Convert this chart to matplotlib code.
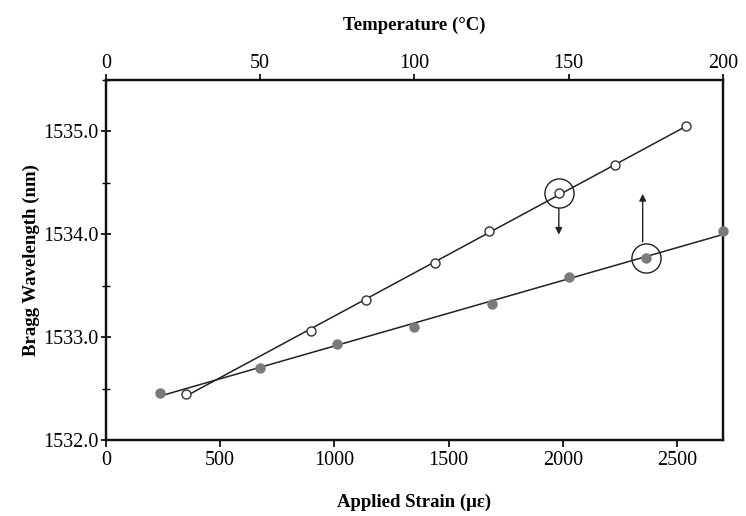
import numpy as np
import matplotlib
matplotlib.use("Agg")
import matplotlib.pyplot as plt
from matplotlib.ticker import MultipleLocator, FormatStrFormatter

# open circles -> applied strain (bottom axis)
strain = [350, 897, 1138, 1440, 1676, 1982, 2227, 2538]
wl_strain = [1532.45, 1533.06, 1533.36, 1533.72, 1534.03, 1534.40, 1534.67, 1535.05]

# filled circles -> temperature (top axis)
temp = [17.5, 50, 75, 100, 125, 150, 175, 200]
wl_temp = [1532.46, 1532.70, 1532.93, 1533.10, 1533.32, 1533.59, 1533.77, 1534.03]

plt.rcParams['font.family'] = ['Liberation Serif', 'DejaVu Serif']

fig = plt.figure(figsize=(7.46, 5.16), dpi=100)
ax = fig.add_axes([0.142, 0.147, 0.827, 0.698])

ax.set_xlim(0, 2700)
ax.set_ylim(1532.0, 1535.5)

# strain series + linear fit
m, b = np.polyfit(strain, wl_strain, 1)
xs = np.array([strain[0], strain[-1]])
ax.plot(xs, m*xs + b, c='#222222', lw=1.1, zorder=2)
ax.plot(strain, wl_strain, 'o', ms=6.5, mfc='white', mec='#333333', mew=1.0, zorder=3)

# temperature on twin top axis
ax2 = ax.twiny()
ax2.set_xlim(0, 200)
m2, b2 = np.polyfit(temp, wl_temp, 1)
ts = np.array([temp[0], temp[-1]])
ax2.plot(ts, m2*ts + b2, c='#222222', lw=1.1, zorder=2)
ax2.plot(temp, wl_temp, 'o', ms=6.5, mfc='#7a7a7a', mec='#7a7a7a', zorder=3, clip_on=False)

# highlight circles and arrows
ax.plot(strain[5], wl_strain[5], 'o', ms=21, mfc='none', mec='#222222', mew=1.0)
ax.annotate('', xy=(strain[5], 1533.97), xytext=(strain[5], 1534.28),
            arrowprops=dict(arrowstyle='-|>', color='#222222', lw=1.0, mutation_scale=10))
ax2.plot(temp[6], wl_temp[6], 'o', ms=21, mfc='none', mec='#222222', mew=1.0)
ax2.annotate('', xy=(174, 1534.42), xytext=(174, 1533.90),
             arrowprops=dict(arrowstyle='-|>', color='#222222', lw=1.0, mutation_scale=10))

for a in (ax, ax2):
    for s in a.spines.values():
        s.set_linewidth(1.6)
        s.set_color('#111111')

ax.xaxis.set_major_locator(MultipleLocator(500))
ax.yaxis.set_major_locator(MultipleLocator(1.0))
ax.yaxis.set_minor_locator(MultipleLocator(0.5))
ax.yaxis.set_major_formatter(FormatStrFormatter('%.1f'))
ax2.xaxis.set_major_locator(MultipleLocator(50))

ax.tick_params(axis='x', direction='out', length=5, width=1.2, labelsize=14.5, pad=3)
ax.tick_params(axis='y', which='major', direction='inout', length=7, width=1.2, labelsize=14.5, pad=2)
ax.tick_params(axis='y', which='minor', direction='inout', length=6, width=1.0)
ax2.tick_params(axis='x', direction='out', length=4, width=1.2, labelsize=14.5, pad=1)

ax.set_xlabel('Applied Strain (\u03bc\u03b5)', fontsize=13.5, fontweight='bold', labelpad=17)
ax.set_ylabel('Bragg Wavelength (nm)', fontsize=13.5, fontweight='bold', labelpad=2)
ax2.set_xlabel('Temperature (\u00b0C)', fontsize=13.5, fontweight='bold', labelpad=17)

fig.savefig('out.png', dpi=100)
